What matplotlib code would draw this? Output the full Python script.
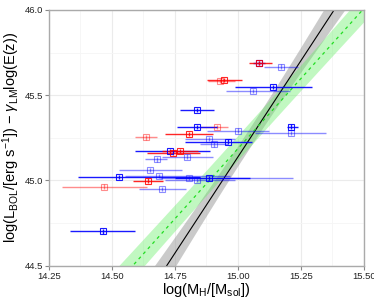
import numpy as np
import matplotlib
matplotlib.use("Agg")
import matplotlib.pyplot as plt
from matplotlib.ticker import MultipleLocator

plt.rcParams['font.family'] = ['Liberation Sans', 'DejaVu Sans']
plt.rcParams['mathtext.fontset'] = 'custom'
plt.rcParams['mathtext.rm'] = 'Liberation Sans'
plt.rcParams['mathtext.it'] = 'Liberation Sans:italic'

# dark blue points: x, y, x low, x high
db_x = [15.083, 15.140, 14.836, 14.839, 15.209, 14.962, 14.730, 14.528, 14.886, 14.463]
db_y = [45.687, 45.547, 45.413, 45.312, 45.316, 45.228, 45.173, 45.019, 45.016, 44.702]
db_lo = [15.060, 14.988, 14.770, 14.757, 15.193, 14.790, 14.591, 14.365, 14.750, 14.333]
db_hi = [15.107, 15.293, 14.905, 14.915, 15.237, 15.054, 14.889, 14.849, 15.048, 14.591]

# light blue points
lb_x = [15.171, 15.061, 15.000, 15.209, 14.886, 14.906, 14.799, 14.677, 14.651, 14.687, 14.807, 14.836, 14.700]
lb_y = [45.667, 45.525, 45.292, 45.280, 45.242, 45.212, 45.140, 45.124, 45.062, 45.026, 45.013, 45.003, 44.950]
lb_lo = [15.103, 14.951, 14.876, 15.067, 14.790, 14.850, 14.697, 14.631, 14.528, 14.552, 14.690, 14.710, 14.608]
lb_hi = [15.237, 15.206, 15.123, 15.348, 14.990, 14.960, 14.900, 14.717, 14.777, 14.968, 15.217, 14.988, 14.793]

# red points
rd_x = [15.085, 14.946, 14.806, 14.743, 14.770, 14.644]
rd_y = [45.687, 45.589, 45.271, 45.160, 45.173, 44.999]
rd_lo = [15.044, 14.876, 14.710, 14.638, 14.700, 14.583]
rd_hi = [15.134, 15.017, 14.902, 14.849, 14.840, 14.702]

# faint red points
lr_x = [14.929, 14.635, 14.916, 14.469]
lr_y = [45.583, 45.253, 45.312, 44.964]
lr_lo = [14.880, 14.592, 14.849, 14.300]
lr_hi = [14.990, 14.680, 14.960, 14.639]

# fits: (x at y=44.5, x at y=46.0)
blk_ends = [14.717, 15.382]
grn_ends = [14.582, 15.495]


def band(ends, xs, a, b):
    slope = 1.5 / (ends[1] - ends[0])
    y = 44.5 + slope * (xs - ends[0])
    x0 = 0.5 * (ends[0] + ends[1])
    w = np.sqrt(a ** 2 + (b * (xs - x0)) ** 2)
    return y, y - w, y + w


fig = plt.figure(figsize=(3.74, 2.99), dpi=100)
ax = fig.add_axes([0.131, 0.111, 0.842, 0.856])

xs = np.linspace(14.2, 15.6, 200)
yb, yb_lo, yb_hi = band(blk_ends, xs, 0.058, 0.224)
yg, yg_lo, yg_hi = band(grn_ends, xs, 0.072, 0.09)

ax.fill_between(xs, yb_lo, yb_hi, color='#a0a0a0', alpha=0.55, lw=0, zorder=1)
ax.fill_between(xs, yg_lo, yg_hi, color='#66ee66', alpha=0.4, lw=0, zorder=1)
ax.plot(xs, yb, color='black', lw=0.8, zorder=2)
ax.plot(xs, yg, color='#22dd22', lw=0.9, ls=(0, (2.5, 3)), zorder=2)


def pts(x, y, lo, hi, color, alpha):
    x = np.array(x)
    xerr = [x - np.array(lo), np.array(hi) - x]
    ax.errorbar(x, y, xerr=xerr, yerr=0.013, fmt='s', mfc='none', mec=color,
                ms=4.2, mew=0.8, color=color, elinewidth=1.0, capsize=0,
                alpha=alpha, zorder=3)


pts(lb_x, lb_y, lb_lo, lb_hi, 'blue', 0.45)
pts(lr_x, lr_y, lr_lo, lr_hi, 'red', 0.45)
pts(db_x, db_y, db_lo, db_hi, 'blue', 0.9)
pts(rd_x, rd_y, rd_lo, rd_hi, 'red', 0.85)

ax.set_xlim(14.25, 15.5)
ax.set_ylim(44.5, 46.0)
ax.set_xticks([14.25, 14.5, 14.75, 15.0, 15.25, 15.5])
ax.set_xticklabels(['14.25', '14.50', '14.75', '15.00', '15.25', '15.50'])
ax.set_yticks([44.5, 45.0, 45.5, 46.0])
ax.set_yticklabels(['44.5', '45.0', '45.5', '46.0'])
ax.xaxis.set_minor_locator(MultipleLocator(0.125))
ax.yaxis.set_minor_locator(MultipleLocator(0.25))
ax.grid(which='major', color='#ebebeb', lw=0.8, zorder=0)
ax.grid(which='minor', color='#f5f5f5', lw=0.6, zorder=0)
ax.set_axisbelow(True)
ax.tick_params(which='major', length=3, width=0.8, color='#888888',
               labelsize=6.8, labelcolor='#222222', pad=1.5)
ax.tick_params(which='minor', length=0)
for s in ax.spines.values():
    s.set_color('#aaaaaa')
    s.set_linewidth(1.0)

ax.set_xlabel(r'log(M$_{\mathrm{H}}$/[M$_{\mathrm{sol}}$])', fontsize=10.5, labelpad=0)
ax.set_ylabel(r'log(L$_{\mathrm{BOL}}$/[erg s$^{-1}$]) $-$ $\gamma_{\mathrm{LM}}$log(E(z))',
              fontsize=10.5, labelpad=2)

fig.savefig('out.png', dpi=100)
